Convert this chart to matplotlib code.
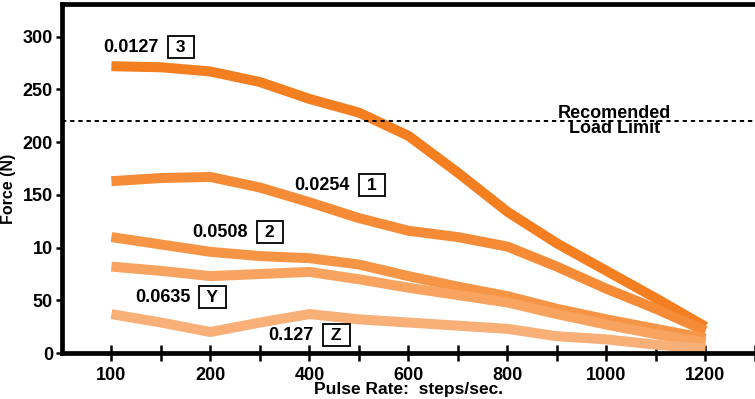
import numpy as np
import matplotlib.pyplot as plt
from matplotlib.ticker import FixedLocator

plt.rcParams['font.family'] = ['Liberation Sans', 'DejaVu Sans']
plt.rcParams['font.weight'] = 'bold'

# 数据：脉冲频率（x轴为非线性刻度，按刻度序号排布）
tick_rates = [100, 200, 400, 600, 800, 1000, 1200]
rates = [100, 150, 200, 300, 400, 500, 600, 700, 800, 900, 1000, 1100, 1200]

force_3 = [272, 271, 267, 257, 241, 228, 206, 171, 134, 104, 78, 52, 25]
force_1 = [163, 166, 167, 157, 143, 128, 116, 110, 101, 82, 61, 42, 21]
force_2 = [110, 103, 96, 92, 90, 84, 73, 63, 54, 42, 32, 23, 14]
force_y = [82, 78, 73, 75, 77, 70, 62, 55, 48, 37, 27, 18, 10]
force_z = [37, 29, 20, 29, 37, 32, 29, 26, 23, 16, 13, 8, 4]

series = [force_3, force_1, force_2, force_y, force_z]
sizes = ['0.0127', '0.0254', '0.0508', '0.0635', '0.127']
codes = ['3', '1', '2', 'Y', 'Z']
colors = ['#f47f20', '#f58b36', '#f69546', '#f8a35f', '#f9af78']

y_ticks = [0, 50, 100, 150, 200, 250, 300]
y_labels = ['0', '50', '10', '150', '200', '250', '300']
load_limit = 220

# 刻度位置 -> 序号
tick_pos = np.arange(len(tick_rates))
xs = np.interp(rates, tick_rates, tick_pos)

fig = plt.figure(figsize=(7.55, 3.99), dpi=100)
ax = fig.add_axes([0.082, 0.115, 0.918, 0.875])

for ys, c in zip(series, colors):
    ax.plot(xs, ys, color=c, linewidth=7.2, solid_joinstyle='round',
            solid_capstyle='butt')

# 推荐负载上限
ax.axhline(load_limit, color='black', linewidth=1.4, linestyle=(0, (2.2, 2.0)))
ax.text(5.08, load_limit, 'Recomended\nLoad Limit', ha='center', va='center',
        fontsize=13, fontweight='bold', linespacing=0.9)

# 标签（数值 + 方框编号）
label_pos = [(0.70, 290), (2.63, 159), (1.60, 114.5), (1.02, 53), (2.27, 17)]
for (lx, ly), s, code in zip(label_pos, sizes, codes):
    ax.text(lx, ly, ' ' + code + ' ', ha='center', va='center', fontsize=12.5,
            fontweight='bold',
            bbox=dict(boxstyle='square,pad=0.2', fc='white', ec='black', lw=1.3))
    ax.annotate(s, xy=(lx, ly), xytext=(-16, 0), textcoords='offset points',
                ha='right', va='center', fontsize=13, fontweight='bold')

ax.set_xlim(-0.5, 6.5)
ax.set_ylim(0, 331)

ax.set_xticks(tick_pos)
ax.set_xticklabels([str(r) for r in tick_rates])
ax.xaxis.set_minor_locator(FixedLocator(list(tick_pos + 0.5)))
ax.set_yticks(y_ticks)
ax.set_yticklabels(y_labels)

ax.tick_params(axis='x', which='both', direction='inout', length=11.5, width=1.8,
               labelsize=13, pad=4)
ax.tick_params(axis='y', direction='out', length=4.5, width=1.8, labelsize=13, pad=2)

for side in ['left', 'bottom', 'top']:
    ax.spines[side].set_linewidth(3.4)
ax.spines['right'].set_visible(False)

ax.set_xlabel('Pulse Rate:  steps/sec.', fontsize=12.5, fontweight='bold', labelpad=-1)
ax.set_ylabel('Force (N)', fontsize=11.5, fontweight='bold')
ax.yaxis.set_label_coords(-0.066, 0.47)

fig.savefig('out.png', dpi=100)
